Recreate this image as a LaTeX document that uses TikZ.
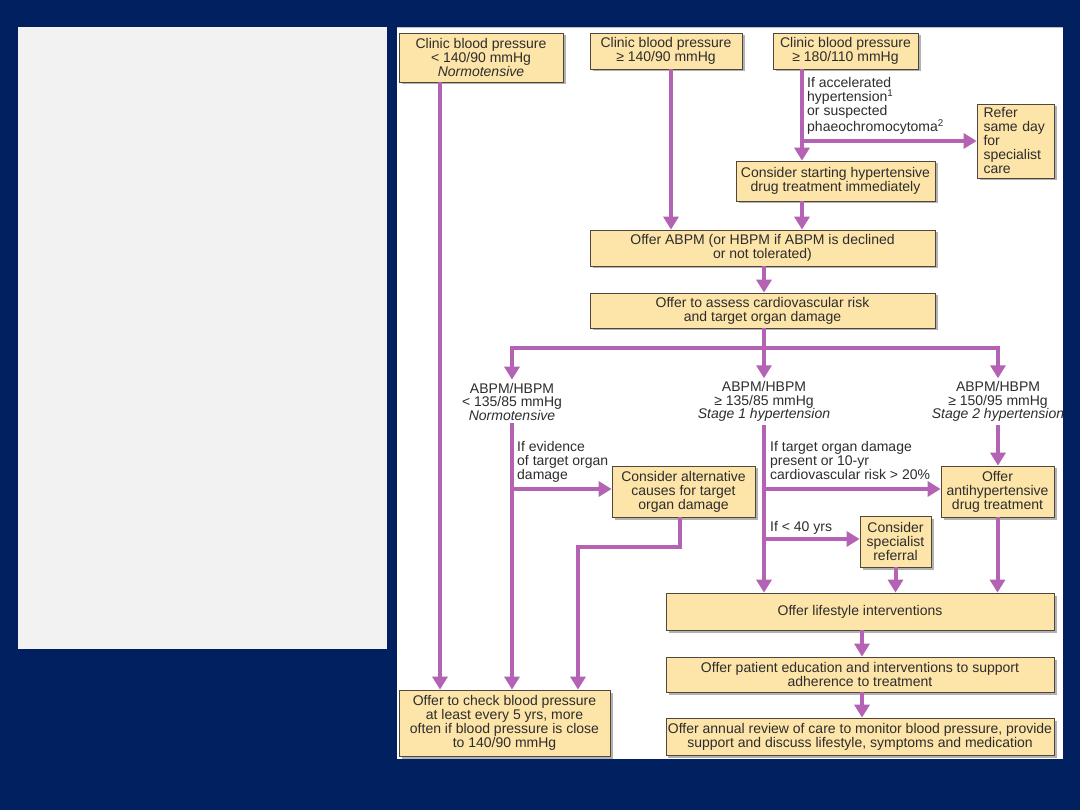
\documentclass[tikz,border=0pt]{standalone}
\usepackage{fontspec}
\setmainfont{Liberation Sans}
\usetikzlibrary{arrows.meta,shadows,calc}
\definecolor{navy}{RGB}{0,32,96}
\definecolor{panelgray}{RGB}{242,242,242}
\definecolor{boxfill}{RGB}{253,228,168}
\definecolor{boxline}{RGB}{80,70,60}
\definecolor{arr}{RGB}{180,98,180}
\definecolor{txt}{RGB}{45,45,45}
\begin{document}
\begin{tikzpicture}[x=1pt,y=-1pt,
  box/.style={draw=boxline, line width=0.8pt, fill=boxfill, align=center, inner sep=2pt,
    text=txt, font=\fontsize{14}{14}\selectfont,
    drop shadow={shadow xshift=2.5pt, shadow yshift=-2.5pt, opacity=0.3, fill=black}},
  lbl/.style={align=left, inner sep=0pt, text=txt, font=\fontsize{14}{14}\selectfont},
  stage/.style={align=center, inner sep=3pt, text=txt, font=\fontsize{14}{13.5}\selectfont},
  conn/.style={draw=arr, line width=4pt},
  arrow/.style={conn, -{Triangle[width=15pt,length=13pt]}}
]
\useasboundingbox (0,0) rectangle (1080,810);
\fill[navy] (0,0) rectangle (1080,810);
\fill[panelgray] (18,27) rectangle (387,649);
\fill[white] (397,27) rectangle (1063,759);
\draw[gray!50, line width=1pt] (397,27.5) -- (1063,27.5);

% boxes
\node[box, minimum width=164pt, minimum height=49pt] (c1) at (481,57.5)
  {Clinic blood pressure\\< 140/90 mmHg\\\textit{Normotensive}};
\node[box, minimum width=152pt, minimum height=36pt] (c2) at (666,51)
  {Clinic blood pressure\\≥ 140/90 mmHg};
\node[box, minimum width=145pt, minimum height=36pt] (c3) at (845.5,51)
  {Clinic blood pressure\\≥ 180/110 mmHg};
\node[box, align=left, minimum width=77pt, minimum height=74pt, text width=64pt] (refer) at (1015.5,141)
  {Refer\\same day\\for\\specialist\\care};
\node[box, minimum width=199pt, minimum height=40pt] (cons) at (835.5,181)
  {Consider starting hypertensive\\drug treatment immediately};
\node[box, minimum width=345pt, minimum height=36pt] (abpm) at (762.5,248)
  {Offer ABPM (or HBPM if ABPM is declined\\or not tolerated)};
\node[box, minimum width=345pt, minimum height=35pt] (assess) at (762.5,310.5)
  {Offer to assess cardiovascular risk\\and target organ damage};
\node[box, minimum width=143pt, minimum height=51pt] (alt) at (683.5,491.5)
  {Consider alternative\\causes for target\\organ damage};
\node[box, minimum width=113pt, minimum height=51pt] (antihyp) at (997.5,491.5)
  {Offer\\antihypertensive\\drug treatment};
\node[box, minimum width=71pt, minimum height=51pt] (spec) at (895.5,541.5)
  {Consider\\specialist\\referral};
\node[box, minimum width=388pt, minimum height=37pt] (life) at (860,611.5)
  {Offer lifestyle interventions};
\node[box, minimum width=388pt, minimum height=35pt] (edu) at (860,674.5)
  {Offer patient education and interventions to support\\adherence to treatment};
\node[box, minimum width=388pt, minimum height=37pt] (annual) at (860,736.5)
  {Offer annual review of care to monitor blood pressure, provide\\support and discuss lifestyle, symptoms and medication};
\node[box, minimum width=211pt, minimum height=66pt] (check) at (504.5,723)
  {Offer to check blood pressure\\at least every 5 yrs, more\\often if blood pressure is close\\to 140/90 mmHg};

% stage labels
\node[stage] (n1) at (512,401.5) {ABPM/HBPM\\< 135/85 mmHg\\\textit{Normotensive}};
\node[stage] (s1) at (764,401.5) {ABPM/HBPM\\≥ 135/85 mmHg\\\textit{Stage 1 hypertension}};
\node[stage] (s2) at (998,401.5) {ABPM/HBPM\\≥ 150/95 mmHg\\\textit{Stage 2 hypertension}};

% condition labels
\node[lbl, anchor=north west] (l1) at (807,77)
  {If accelerated\\hypertension\textsuperscript{1}\\or suspected\\phaeochromocytoma\textsuperscript{2}};
\node[lbl, anchor=north west] (l2) at (517,441) {If evidence\\of target organ\\damage};
\node[lbl, anchor=north west] (l3) at (770,441) {If target organ damage\\present or 10-yr\\cardiovascular risk > 20\%};
\node[lbl, anchor=west] (l4) at (770,528) {If < 40 yrs};

% helper coordinates
\coordinate (x1) at (440,0);
\coordinate (x2) at (671,0);
\coordinate (x3) at (802,0);
\coordinate (x4) at (764,0);
\coordinate (hb) at (764,348);
\coordinate (t1) at (578,547);

% connectors
\draw[arrow] (c1.south -| x1) -- (check.north -| x1);
\draw[arrow] (c2.south -| x2) -- (abpm.north -| x2);
\draw[arrow] (c3.south -| x3) -- (cons.north -| x3);
\draw[arrow] (refer.west -| x3) -- (refer.west);
\draw[arrow] (cons.south -| x3) -- (abpm.north -| x3);
\draw[arrow] (abpm.south -| x4) -- (assess.north -| x4);
\draw[conn] (assess.south -| x4) -- (hb);
\draw[conn, line cap=rect] (n1.north |- hb) -- (s2.north |- hb);
\draw[arrow] (n1.north |- hb) -- (n1.north);
\draw[arrow] (hb) -- (s1.north);
\draw[arrow] (s2.north |- hb) -- (s2.north);

\draw[arrow] (n1.south) -- (n1.south |- check.north);
\draw[arrow] (n1.south |- 0,489) -- (alt.west |- 0,489);
\draw[arrow] ([xshift=-3.5pt]alt.south) |- (t1) -- (t1 |- check.north);

\draw[arrow] (s1.south) -- (s1.south |- life.north);
\draw[arrow] (s1.south |- 0,489) -- (antihyp.west |- 0,489);
\draw[arrow] (s1.south |- 0,539) -- (spec.west |- 0,539);
\draw[arrow] (s2.south) -- (s2.south |- antihyp.north);
\draw[arrow] (antihyp.south) -- (antihyp.south |- life.north);
\draw[arrow] (spec.south) -- (spec.south |- life.north);
\draw[arrow] ([xshift=2pt]life.south) -- ([xshift=2pt]edu.north);
\draw[arrow] ([xshift=2pt]edu.south) -- ([xshift=2pt]annual.north);
\end{tikzpicture}
\end{document}
